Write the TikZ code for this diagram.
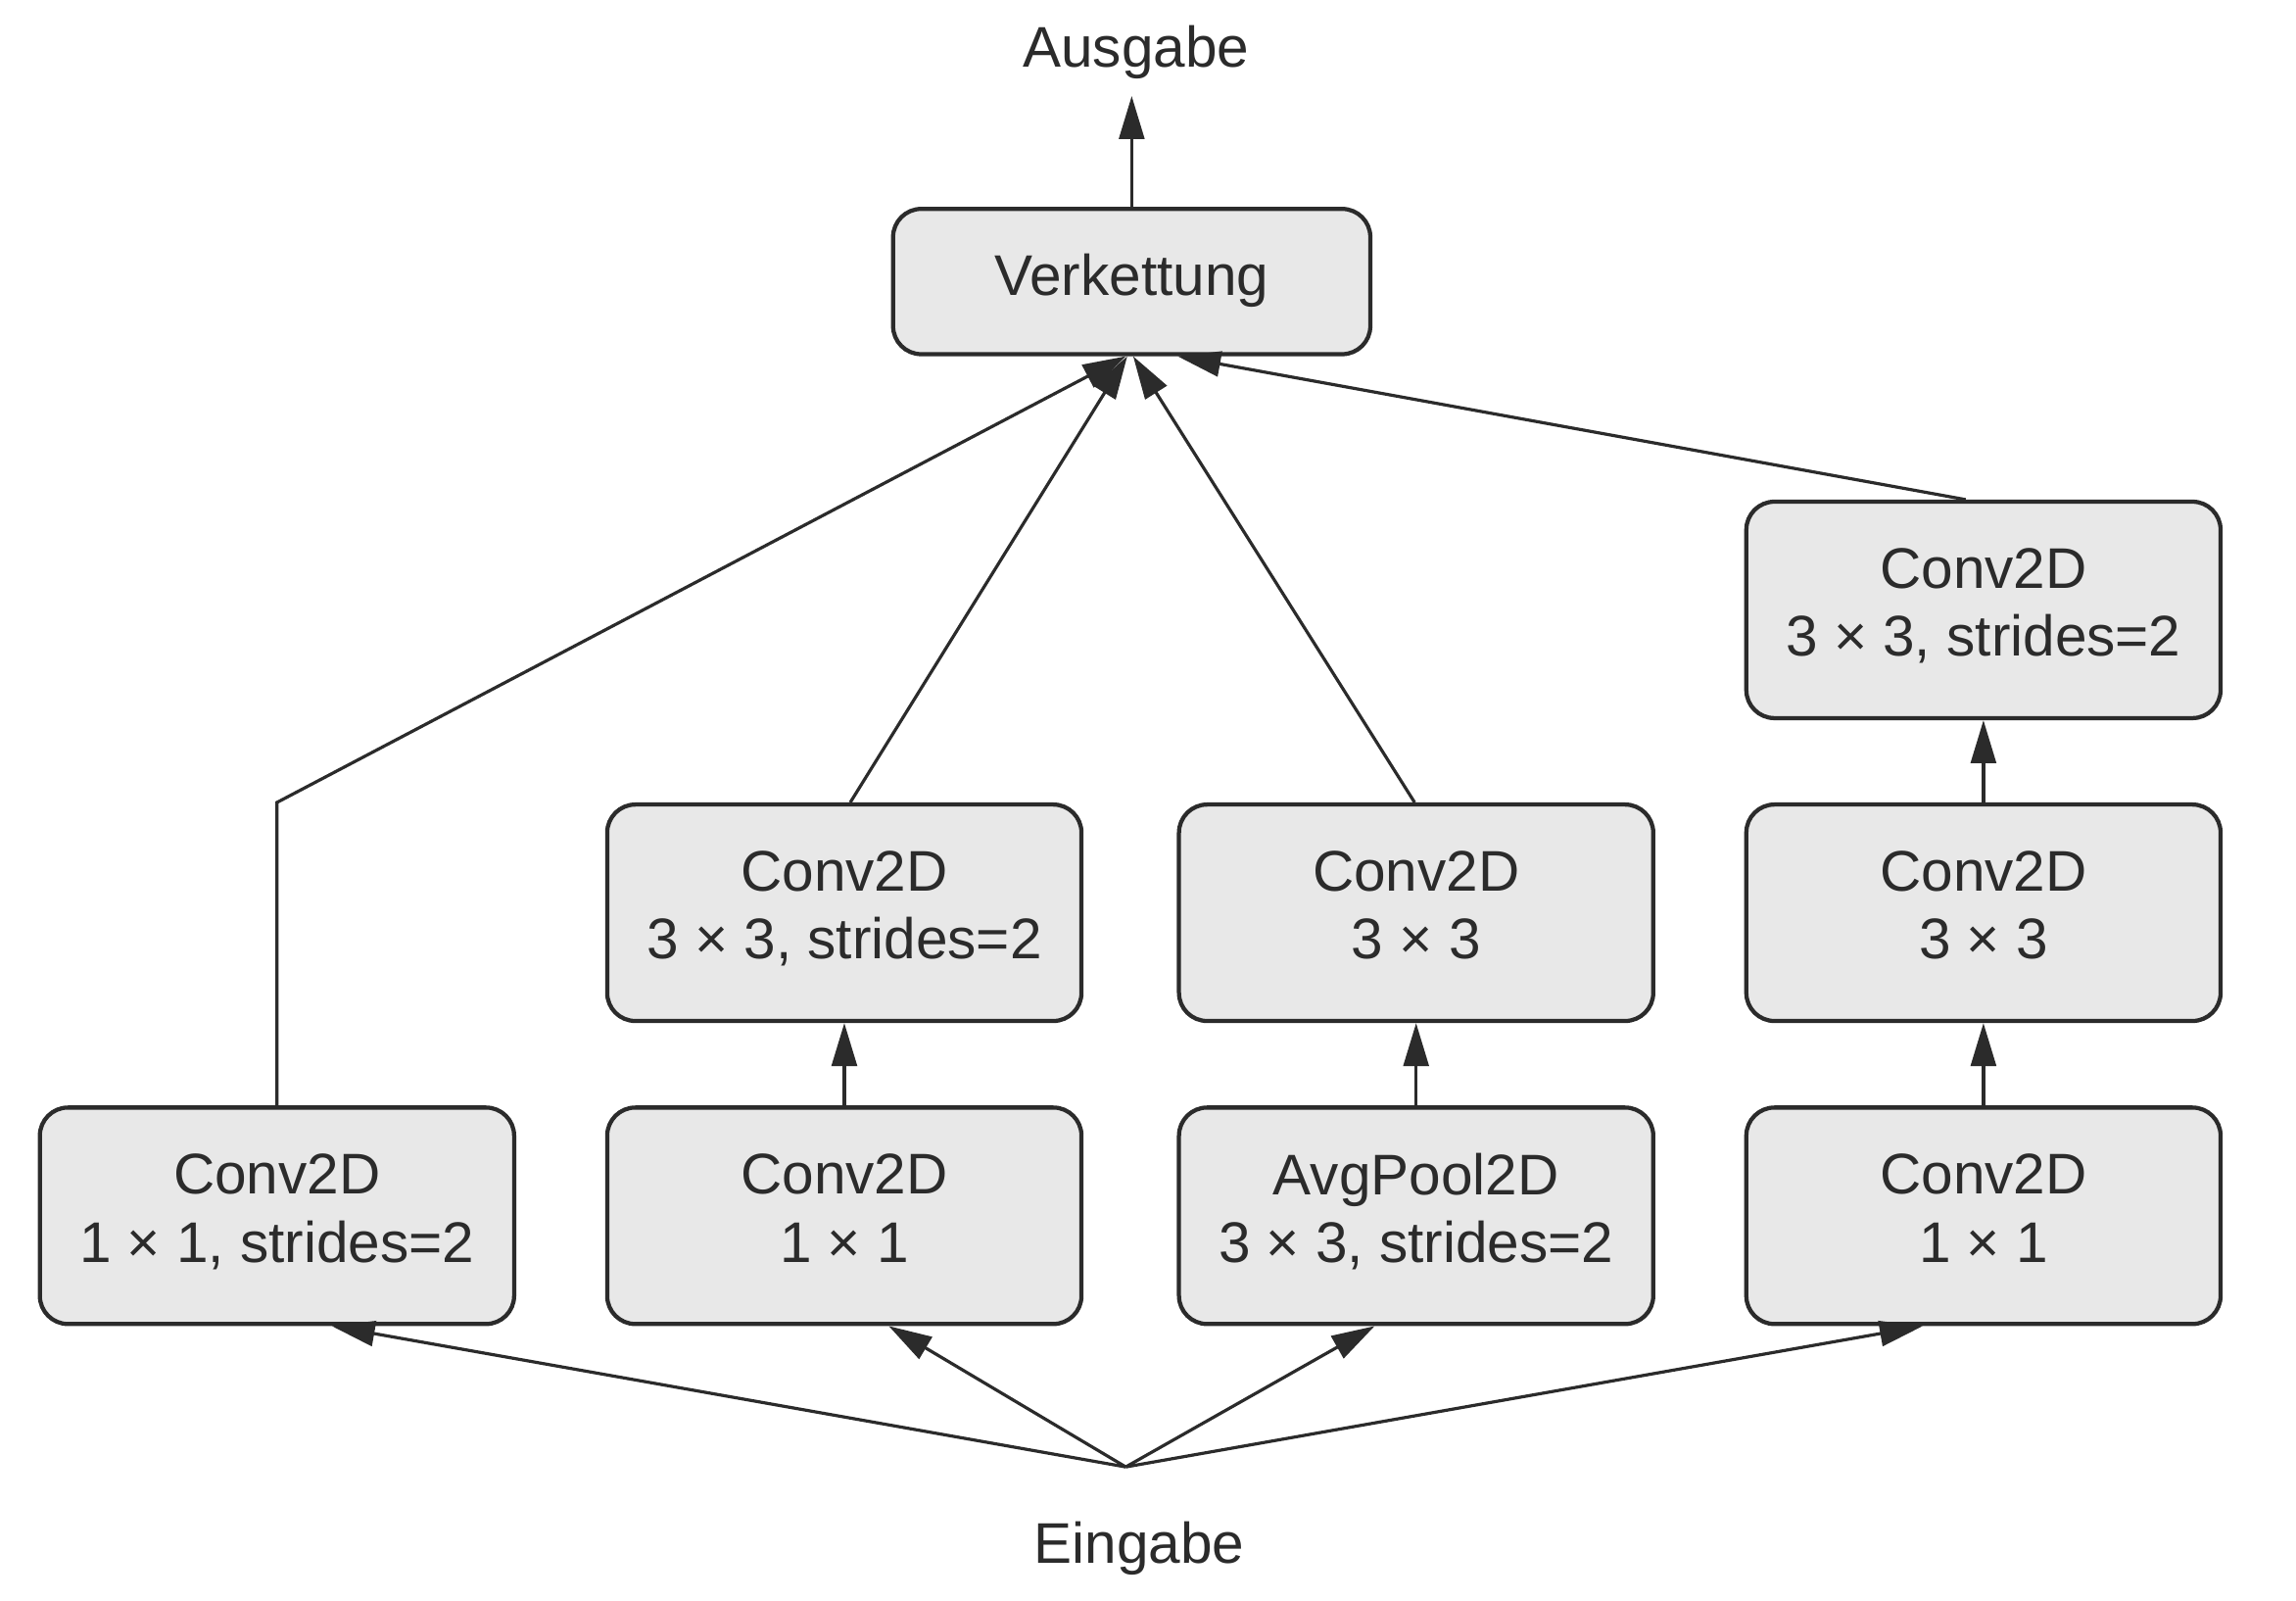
\documentclass[tikz,border=0pt]{standalone}
\usepackage{fontspec}
\setmainfont{Liberation Sans}
\usetikzlibrary{arrows.meta}
\definecolor{boxgrau}{HTML}{E8E8E8}
\definecolor{linie}{HTML}{2B2B2B}
\newcommand{\blockstrut}{\rule[-3pt]{0pt}{13pt}}
\tikzset{
	block/.style={draw=linie, line width=0.8pt, fill=boxgrau, rounded corners=0.19cm,
		minimum width=3.2cm, minimum height=1.46cm, inner sep=0pt, align=center,
		text=linie, font=\fontsize{11pt}{13.1pt}\selectfont,
		execute at begin node=\blockstrut, execute at end node=\blockstrut},
	pfeil/.style={draw=linie, line width=0.6pt, -{Triangle[length=0.29cm,width=0.17cm]}},
	beschriftung/.style={text=linie, inner sep=1.5pt, anchor=base,
		font=\fontsize{11pt}{13.1pt}\selectfont,
		execute at begin node=\strut}
}
\begin{document}
\begin{tikzpicture}[x=0.01cm, y=-0.01cm]
	\useasboundingbox (0,0) rectangle (1550,1080.5);
	% Ausgabe oben
	\node[beschriftung] (ausgabe) at (767,45) {Ausgabe};
	\node[block, minimum width=3.22cm, minimum height=0.98cm,
		execute at begin node={\rule[-4.5pt]{0pt}{12.6pt}}, execute at end node={}]
		(verkettung) at (764,190) {Verkettung};
	\draw[pfeil] (verkettung.north) -- (verkettung.north |- ausgabe.south);

	% Block rechts oben
	\node[block] (conv3x3s2b) at (1339,411.6) {Conv2D\\3 × 3, strides=2};

	% mittlere Reihe
	\node[block] (conv3x3s2a) at (570,616) {Conv2D\\3 × 3, strides=2};
	\node[block] (conv3x3a) at (956,616) {Conv2D\\3 × 3};
	\node[block] (conv3x3b) at (1339,616) {Conv2D\\3 × 3};

	% untere Reihe
	\node[block] (conv1x1s2) at (187,820.5) {Conv2D\\1 × 1, strides=2};
	\node[block] (conv1x1a) at (570,820.5) {Conv2D\\1 × 1};
	\node[block] (avgpool) at (956,820.5) {AvgPool2D\\3 × 3, strides=2};
	\node[block] (conv1x1b) at (1339,820.5) {Conv2D\\1 × 1};

	% Eingabe unten
	\coordinate (quelle) at (760,990);
	\node[beschriftung] (eingabe) at (769,1055) {Eingabe};

	% Pfeile von der Eingabe
	\draw[pfeil] (quelle) -- ([xshift=0.37cm]conv1x1s2.south);
	\draw[pfeil] (quelle) -- ([xshift=0.30cm]conv1x1a.south);
	\draw[pfeil] (quelle) -- ([xshift=-0.28cm]avgpool.south);
	\draw[pfeil] (quelle) -- ([xshift=-0.41cm]conv1x1b.south);

	% Pfeile innerhalb der Zweige
	\draw[pfeil] (conv1x1a.north) -- (conv3x3s2a.south);
	\draw[pfeil] (avgpool.north) -- (conv3x3a.south);
	\draw[pfeil] (conv1x1b.north) -- (conv3x3b.south);
	\draw[pfeil] (conv3x3b.north) -- (conv3x3s2b.south);

	% Pfeile zur Verkettung
	\coordinate (knick) at (conv1x1s2.north |- conv3x3s2a.north);
	\draw[pfeil] (conv1x1s2.north) -- (knick) -- ([xshift=-0.04cm]verkettung.south);
	\draw[pfeil] ([xshift=0.04cm]conv3x3s2a.north) -- ([xshift=-0.03cm]verkettung.south);
	\draw[pfeil] ([xshift=-0.01cm]conv3x3a.north) -- ([xshift=0.01cm]verkettung.south);
	\draw[pfeil] ([xshift=-0.12cm]conv3x3s2b.north) -- ([xshift=0.31cm]verkettung.south);
\end{tikzpicture}
\end{document}
